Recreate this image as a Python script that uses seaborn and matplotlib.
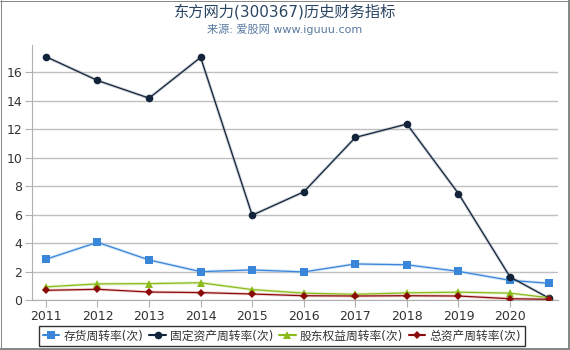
import matplotlib
matplotlib.use("Agg")
import matplotlib.pyplot as plt
from matplotlib.lines import Line2D
import seaborn as sns
import pandas as pd

# Reporting periods (the last one is Q3 2021)
periods = [2011, 2012, 2013, 2014, 2015, 2016, 2017, 2018, 2019, 2020, 2020.75]
year_ticks = [2011, 2012, 2013, 2014, 2015, 2016, 2017, 2018, 2019, 2020]

inventory_turnover = [2.86, 4.05, 2.81, 1.99, 2.11, 1.97, 2.53, 2.47, 2.01, 1.38, 1.17]
fixed_asset_turnover = [17.08, 15.41, 14.17, 17.03, 5.95, 7.59, 11.41, 12.35, 7.47, 1.62, 0.14]
equity_turnover = [0.92, 1.13, 1.15, 1.21, 0.73, 0.48, 0.40, 0.50, 0.55, 0.48, 0.16]
total_asset_turnover = [0.68, 0.75, 0.56, 0.52, 0.42, 0.30, 0.28, 0.30, 0.28, 0.09, 0.05]

series_names = ["存货周转率(次)", "固定资产周转率(次)", "股东权益周转率(次)", "总资产周转率(次)"]
series_values = [inventory_turnover, fixed_asset_turnover, equity_turnover, total_asset_turnover]
colors = ["#3a86d8", "#13243b", "#8cbc1c", "#8b0a0a"]
halo_colors = ["#a8ccf2", "#9aa3b0", "#cfe6a0", "#e0a8a8"]
markers = ["s", "o", "^", "D"]
marker_sizes = [5.5, 5.5, 6, 4.2]

rows = []
for name, vals in zip(series_names, series_values):
    for p, v in zip(periods, vals):
        rows.append({"period": p, "value": v, "series": name})
df = pd.DataFrame(rows)

sns.set_style("white")
plt.rcParams["font.family"] = ["DejaVu Sans", "Noto Sans CJK SC"]

W, H = 570, 350
fig = plt.figure(figsize=(W / 100, H / 100), dpi=100)
ax = fig.add_axes([32 / W, 1 - 300 / H, (558 - 32) / W, (300 - 45) / H])

palette = dict(zip(series_names, colors))
# soft halo under each line
for name, halo in zip(series_names, halo_colors):
    sub = df[df["series"] == name]
    sns.lineplot(data=sub, x="period", y="value", ax=ax, color=halo,
                 linewidth=2.2, alpha=0.5, legend=False, zorder=2)
sns.lineplot(data=df, x="period", y="value", hue="series", style="series",
             palette=palette, markers=dict(zip(series_names, markers)),
             dashes=False, linewidth=0.9, markeredgewidth=0,
             ax=ax, legend=False, zorder=3)
for line, ms in zip(ax.lines[len(series_names):], marker_sizes):
    line.set_markersize(ms)

ax.set_xlim(2010.73, 2020.93)
ax.set_ylim(0, 17.9)
ax.set_yticks(range(0, 17, 2))
ax.set_xticks(year_ticks)
ax.set_xticklabels([str(y) for y in year_ticks])
ax.set_xlabel("")
ax.set_ylabel("")
ax.grid(axis="y", color="#c0c0c0", linewidth=1)
ax.grid(axis="x", visible=False)
for side in ["top", "right"]:
    ax.spines[side].set_visible(False)
ax.spines["left"].set_color("#b0b0b0")
ax.spines["bottom"].set_color("#b0b0b0")
ax.tick_params(axis="both", labelsize=9, colors="#333333", length=5,
               direction="out", color="#b0b0b0", pad=2)
ax.tick_params(axis="both", left=True, bottom=True)

fig.text(0.5, 1 - 12 / H, "东方网力(300367)历史财务指标", ha="center", va="center",
         fontsize=11, color="#2a4562")
fig.text(0.5, 1 - 29 / H, "来源: 爱股网 www.iguuu.com", ha="center", va="center",
         fontsize=8, color="#5a7aa0")

handles = [Line2D([0], [0], color=c, marker=m, markersize=ms, linewidth=1.5,
                  markeredgewidth=0)
           for c, m, ms in zip(colors, markers, marker_sizes)]
leg = fig.legend(handles, series_names, loc="center", ncol=4,
                 bbox_to_anchor=(282 / W, 1 - 336 / H), fontsize=8.5,
                 frameon=True, fancybox=False, handlelength=1.4, handletextpad=0.35,
                 columnspacing=0.5, borderpad=0.3, borderaxespad=0, labelcolor="#333333")
leg.get_frame().set_edgecolor("#000000")
leg.get_frame().set_linewidth(1.0)

# outer frame: 1px top/left, 2px right/bottom
px = 72 / 100
for xs, ys, lw in [([0.5 / W, 0.5 / W], [0, 1], 1), ([0, 1], [1 - 0.5 / H, 1 - 0.5 / H], 1),
                   ([569 / W, 569 / W], [0, 1], 2), ([0, 1], [1 / H, 1 / H], 2)]:
    fig.add_artist(Line2D(xs, ys, color="#888888", linewidth=lw * px,
                          transform=fig.transFigure))

fig.savefig("out.png", dpi=100)
